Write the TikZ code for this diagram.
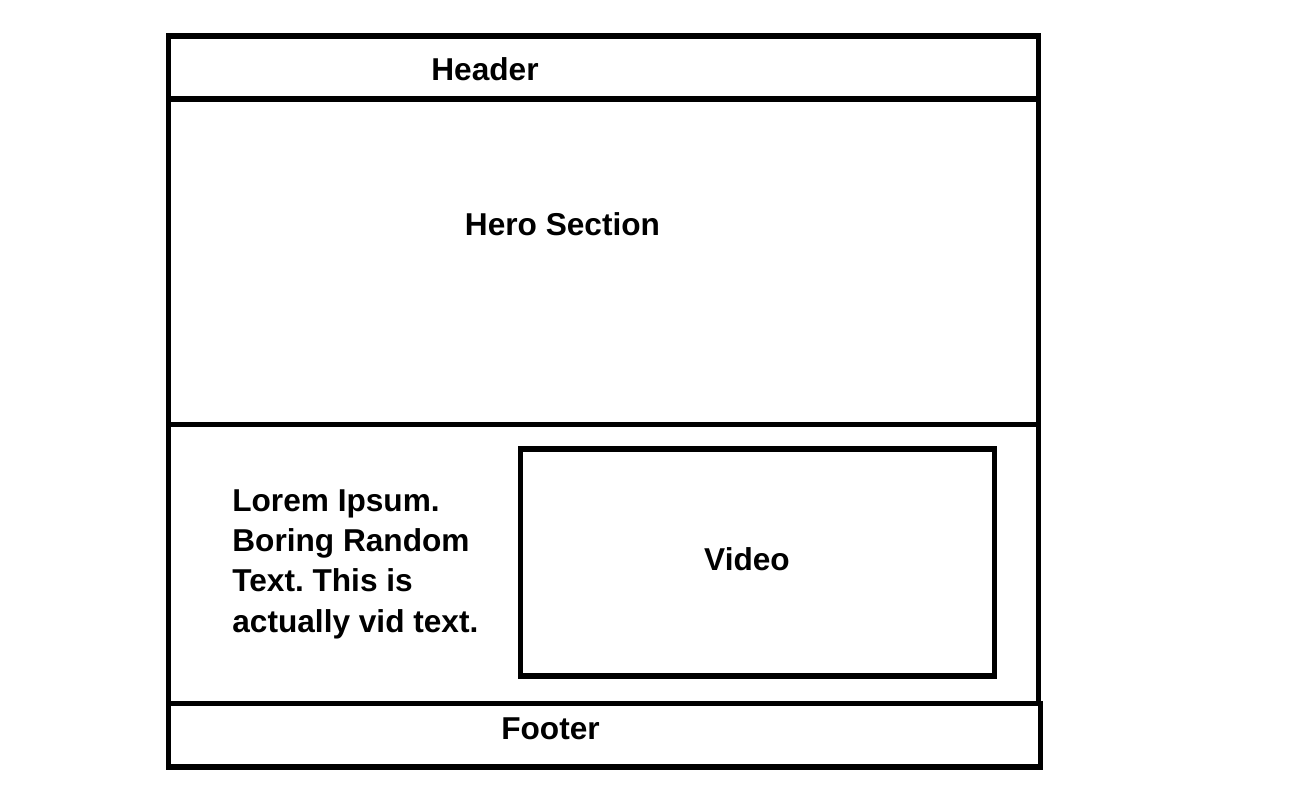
\documentclass[tikz,border=0pt]{standalone}
\usepackage{fontspec}
\setmainfont{Liberation Sans}
\usepackage{tikz}
\frenchspacing

\begin{document}
\begin{tikzpicture}[x=0.02cm, y=-0.02cm,
		frame/.style={draw, line width=3.1pt, line cap=rect},
		label/.style={font=\fontsize{18}{22.8}\selectfont\bfseries, inner sep=0pt}]
				\useasboundingbox (0, 0) rectangle (1299, 788);
				% Page frame and sections:
				\draw[frame] (168.5, 36) rectangle (1038.5, 99);
				\draw[frame] (168.5, 99) -- (168.5, 703.5);
				\draw[frame] (1038.5, 99) -- (1038.5, 703.5);
				\draw[frame] (168.5, 424.5) -- (1038.5, 424.5);
				\draw[frame] (168.5, 703.5) rectangle (1040.5, 767);
				\draw[frame] (520.5, 449) rectangle (994.5, 676);
				% Labels:
				\node[label] (header) at (485, 69){Header};
				\node[label] (hero) at (562.5, 224){Hero Section};
				\node[label] (video) at (747, 559){Video};
				\node[label] (footer) at (550.5, 729){Footer};
				\node[label, anchor=base west, align=left] (vidtext) at (232, 632){Lorem Ipsum.\\Boring Random\\Text. This is\\actually vid text.};
			\end{tikzpicture}
\end{document}
